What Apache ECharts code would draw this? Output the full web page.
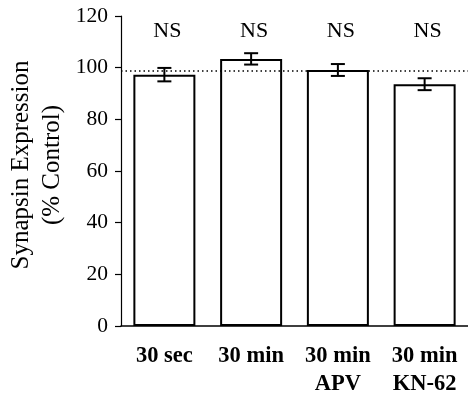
<!DOCTYPE html>
<html>
<head>
<meta charset="utf-8">
<style>html,body{margin:0;padding:0;background:#fff;}#chart{width:468px;height:398px;}</style>
<script src="https://cdn.jsdelivr.net/npm/echarts@6/dist/echarts.min.js"></script>
</head>
<body>
<div id="chart"></div>
<script>
const categories = ['30 sec', '30 min', '30 min\nAPV', '30 min\nKN-62'];
const means = [97.3, 103.4, 99.1, 93.6];
const errors = [2.6, 2.2, 2.3, 2.3];
const significance = ['NS', 'NS', 'NS', 'NS'];
const controlLevel = 99;
const yTicks = [0, 20, 40, 60, 80, 100, 120];

const FONT = '"Liberation Serif", "Times New Roman", serif';
const chart = echarts.init(document.getElementById('chart'), null, {renderer: 'canvas'});

const option = {
  animation: false,
  backgroundColor: '#fff',
  grid: {left: 121, right: -4, top: 16, bottom: 71, containLabel: false},
  xAxis: {
    type: 'category',
    data: categories,
    axisLine: {lineStyle: {color: '#000', width: 1.5}},
    axisTick: {show: false},
    axisLabel: {
      color: '#000', fontFamily: FONT, fontSize: 22.5, fontWeight: 'bold',
      lineHeight: 28, margin: 16, interval: 0
    }
  },
  yAxis: {
    type: 'value',
    min: yTicks[0], max: yTicks[yTicks.length - 1], interval: 20,
    splitLine: {show: false},
    axisLine: {show: true, lineStyle: {color: '#000', width: 1.2}},
    axisTick: {show: true, length: 6, lineStyle: {color: '#000', width: 1.2}},
    axisLabel: {color: '#000', fontFamily: FONT, fontSize: 21.5, margin: 13}
  },
  graphic: [{
    type: 'text',
    x: 37, y: 165,
    rotation: Math.PI / 2,
    style: {
      text: 'Synapsin Expression\n(% Control)',
      font: '25px ' + FONT,
      fill: '#000',
      align: 'center',
      verticalAlign: 'middle',
      lineHeight: 31
    }
  }],
  series: [
    {
      type: 'bar',
      data: means,
      barWidth: 62,
      itemStyle: {color: '#fff', borderColor: '#000', borderWidth: 2},
      markLine: {
        silent: true,
        symbol: 'none',
        label: {show: false},
        lineStyle: {type: [1.5, 3], color: '#000', width: 1.5},
        data: [{yAxis: controlLevel}]
      },
      z: 2
    },
    {
      type: 'custom',
      data: means.map((m, i) => [i, m - errors[i], m + errors[i]]),
      renderItem: function (params, api) {
        const lo = api.coord([api.value(0), api.value(1)]);
        const hi = api.coord([api.value(0), api.value(2)]);
        const half = 7;
        const style = {stroke: '#000', lineWidth: 2};
        return {
          type: 'group',
          children: [
            {type: 'line', shape: {x1: lo[0], y1: lo[1], x2: hi[0], y2: hi[1]}, style: style},
            {type: 'line', shape: {x1: hi[0] - half, y1: hi[1], x2: hi[0] + half, y2: hi[1]}, style: style},
            {type: 'line', shape: {x1: lo[0] - half, y1: lo[1], x2: lo[0] + half, y2: lo[1]}, style: style}
          ]
        };
      },
      z: 5
    },
    {
      type: 'scatter',
      data: significance.map(() => 114),
      symbolSize: 0,
      itemStyle: {opacity: 1, color: 'rgba(0,0,0,0)'},
      label: {
        show: true, position: 'inside', offset: [3, 0],
        formatter: p => significance[p.dataIndex],
        color: '#000', opacity: 1, fontFamily: FONT, fontSize: 22
      },
      z: 6
    }
  ]
};
chart.setOption(option);
</script>
</body>
</html>
